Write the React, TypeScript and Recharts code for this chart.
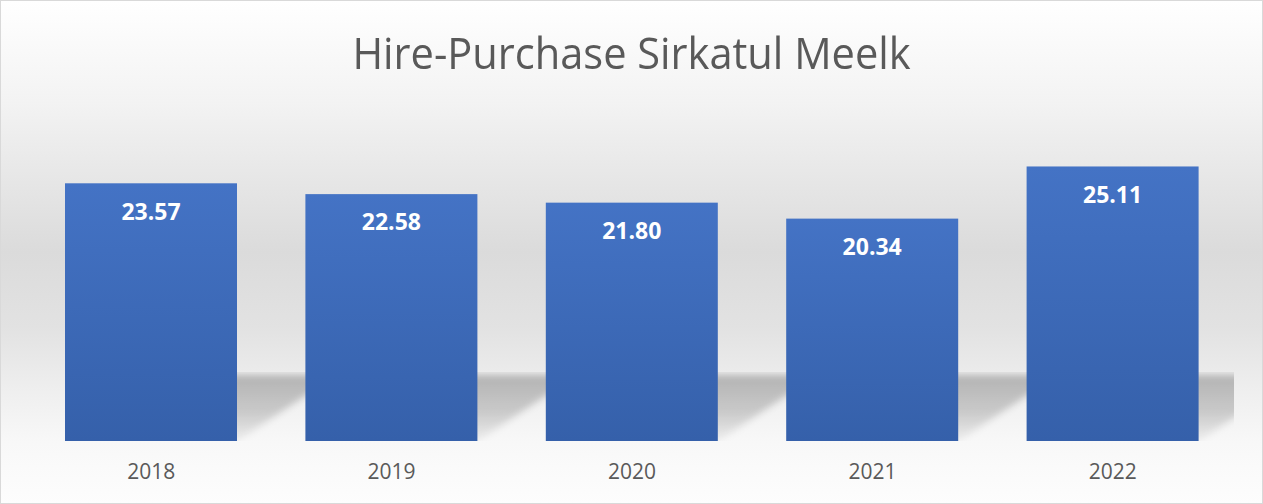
import { BarChart, Bar, XAxis, YAxis, LabelList } from "recharts";

const years = ["2018", "2019", "2020", "2021", "2022"];
const values = [23.57, 22.58, 21.8, 20.34, 25.11];

const data = years.map((year, i) => ({ year, value: values[i] }));

const W = 1263;
const H = 504;
const FLOOR = 441;
const PLOT_LEFT = 31;
const PLOT_RIGHT = 1234;

// bar with a soft cast shadow falling to the right on the floor
function ShadowBar(props: any) {
  const { x, y, width, height } = props;
  const top = 375;
  const s = 100;
  const pts = [
    [x, FLOOR],
    [x + width, FLOOR],
    [x + width + s, top],
    [x + s, top],
  ]
    .map((p) => p.join(","))
    .join(" ");
  return (
    <g>
      <g clipPath="url(#floorClip)">
        <polygon points={pts} fill="url(#shadowGrad)" filter="url(#shadowBlur)" />
      </g>
      <rect x={x} y={y} width={width} height={height} fill="url(#barGrad)" />
    </g>
  );
}

export default function App() {
  return (
    <div
      style={{
        position: "fixed",
        left: 0,
        top: 0,
        width: W,
        height: H,
        boxSizing: "border-box",
        border: "1px solid #d9d9d9",
        background:
          "linear-gradient(to bottom, #ffffff 0%, #f3f3f3 20%, #dbdbdb 50%, #e2e2e2 65%, #efefef 78%, #f8f8f8 88%, #fdfdfd 100%)",
        fontFamily: "'Open Sans', sans-serif",
      }}
    >
      <div
        style={{
          position: "absolute",
          left: 0,
          top: 21,
          width: W - 2,
          textAlign: "center",
          fontSize: 44,
          color: "#595959",
          lineHeight: "60px",
          transform: "scaleX(0.945)",
        }}
      >
        Hire-Purchase Sirkatul Meelk
      </div>
      <div style={{ position: "absolute", left: -1, top: -1 }}>
        <BarChart
          width={W}
          height={H}
          data={data}
          margin={{ top: 113, right: W - PLOT_RIGHT + 1, bottom: 33, left: PLOT_LEFT }}
        >
          <defs>
            <linearGradient id="barGrad" x1="0" y1="0" x2="0" y2="1">
              <stop offset="0%" stopColor="#4473c5" />
              <stop offset="100%" stopColor="#3560aa" />
            </linearGradient>
            <linearGradient id="shadowGrad" x1="0" y1="0" x2="0" y2="1">
              <stop offset="0%" stopColor="#000" stopOpacity={0.24} />
              <stop offset="55%" stopColor="#000" stopOpacity={0.17} />
              <stop offset="100%" stopColor="#000" stopOpacity={0.04} />
            </linearGradient>
            <filter id="shadowBlur" x="-20%" y="-20%" width="140%" height="140%">
              <feGaussianBlur stdDeviation="3.5" />
            </filter>
            <clipPath id="floorClip">
              <rect x={PLOT_LEFT} y={372} width={PLOT_RIGHT - PLOT_LEFT} height={FLOOR - 372} />
            </clipPath>
          </defs>
          <XAxis
            dataKey="year"
            axisLine={false}
            tickLine={false}
            tickSize={0}
            tickMargin={23}
            height={30}
            tick={{ fill: "#595959", fontSize: 21, fontFamily: "'Open Sans', sans-serif" }}
          />
          <YAxis hide domain={[0, 30]} />
          <Bar
            dataKey="value"
            barSize={172}
            shape={ShadowBar}
            isAnimationActive={false}
          >
            <LabelList
              dataKey="value"
              position="insideTop"
              offset={20}
              formatter={(v: any) => Number(v).toFixed(2)}
              fill="#ffffff"
              fontSize={23}
              fontWeight="bold"
              fontFamily="'Open Sans', sans-serif"
            />
          </Bar>
        </BarChart>
      </div>
    </div>
  );
}
